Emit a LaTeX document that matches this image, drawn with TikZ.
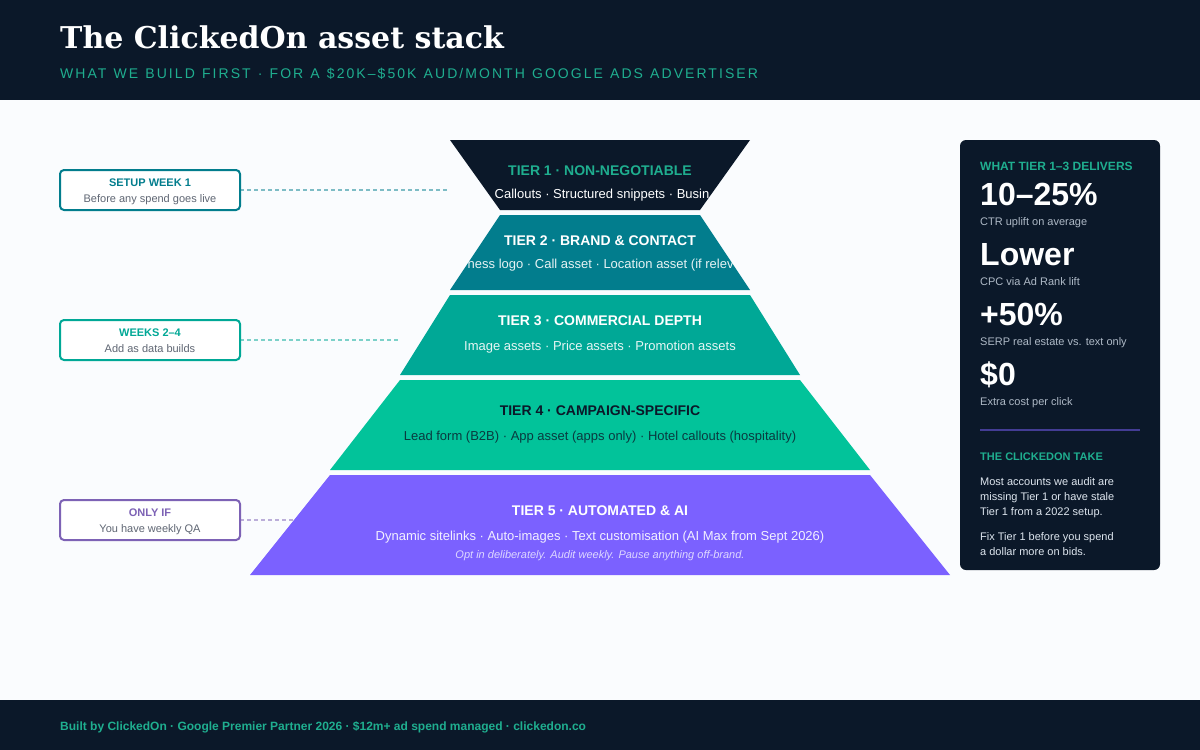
\documentclass[tikz,border=0pt]{standalone}
\usepackage{fontspec}
\setmainfont{Liberation Sans}
\newfontfamily\titlefont{DejaVu Serif}
\newfontfamily\spacedfont[LetterSpace=14.7,WordSpace=1.2]{Liberation Sans}
\definecolor{navy}{HTML}{0B1829}
\definecolor{paper}{HTML}{FAFCFE}
\definecolor{mint}{HTML}{1FAE8F}
\definecolor{tiertwo}{HTML}{027D8D}
\definecolor{tierthree}{HTML}{00A896}
\definecolor{tierfour}{HTML}{02C39A}
\definecolor{tierfive}{HTML}{7B61FF}
\definecolor{weekpurple}{HTML}{7D62B5}
\definecolor{greytext}{HTML}{5F6673}
\definecolor{panelgrey}{HTML}{AEB9C6}
\definecolor{paneltext}{HTML}{DDE5EE}
\newcommand{\fs}[1]{\fontsize{#1}{#1}\selectfont}
\newcommand{\weeklines}[3]{\rule{0pt}{12.4pt}{\color{#1}\bfseries #2}\\#3\rule[-3pt]{0pt}{3pt}}
\tikzset{
  heading/.style={anchor=base, inner sep=0pt, font=\fs{14}\bfseries},
  assets/.style={anchor=base, inner sep=0pt, font=\fs{13}},
  weekbox/.style={draw, line width=2pt, rounded corners=4pt, fill=white, minimum width=180pt, minimum height=40pt,
    inner sep=0pt, outer sep=0pt, align=center, text=greytext, font=\fontsize{11}{16}\selectfont},
  link/.style={line width=1.5pt, dash pattern=on 4pt off 3pt, opacity=0.5},
  paneltitle/.style={anchor=base west, inner sep=0pt, text=mint, font=\fs{12}\bfseries},
  bignum/.style={anchor=base west, inner sep=0pt, text=white, font=\fs{32}\bfseries},
  smallnote/.style={anchor=base west, inner sep=0pt, text=panelgrey, font=\fs{11}},
  paneltake/.style={anchor=north west, inner sep=0pt, align=left, text=paneltext, font=\fontsize{11}{15}\selectfont}
}

\begin{document}
\begin{tikzpicture}[x=1pt, y=-1pt]
  \useasboundingbox (0,0) rectangle (1200,750);
  \fill [paper] (0,0) rectangle (1200,750);
  \fill [navy] (0,0) rectangle (1200,100);
  \fill [navy] (0,700) rectangle (1200,750);

  \node [anchor=base west, inner sep=0pt, text=white, font=\titlefont\fs{30}\bfseries] (title) at (60,48) {The ClickedOn asset stack};
  \node [anchor=base west, inner sep=0pt, text=mint, font=\spacedfont\fs{14}] (subtitle) at (60,78) {WHAT WE BUILD FIRST · FOR A \$20K–\$50K AUD/MONTH GOOGLE ADS ADVERTISER};
  \node [anchor=base west, inner sep=0pt, text=mint, font=\fs{12}\bfseries] (footer) at (60,730) {Built by ClickedOn · Google Premier Partner 2026 · \$12m+ ad spend managed · clickedon.co};

  \fill [navy] (450,140) -- (750,140) -- (700,210) -- (500,210) -- cycle;
  \fill [tiertwo] (500,215) -- (700,215) -- (750,290) -- (450,290) -- cycle;
  \fill [tierthree] (450,295) -- (750,295) -- (800,375) -- (400,375) -- cycle;
  \fill [tierfour] (400,380) -- (800,380) -- (870,470) -- (330,470) -- cycle;
  \fill [tierfive] (330,475) -- (870,475) -- (950,575) -- (250,575) -- cycle;

  \node [heading, text=mint] (t1) at (600,175) {TIER 1 · NON-NEGOTIABLE};
  \node [assets, text=white, anchor=base west] (a1) at (494.5,198) {Callouts · Structured snippets · Busin};
  \node [heading, text=white] (t2) at (600,245) {TIER 2 · BRAND \& CONTACT};
  \node [assets, text=white, text opacity=0.9, anchor=base west] (a2) at (467.5,268) {ness logo · Call asset · Location asset (if relev};
  \node [heading, text=white] (t3) at (600,325) {TIER 3 · COMMERCIAL DEPTH};
  \node [assets, text=white, text opacity=0.9] (a3) at (600,350) {Image assets · Price assets · Promotion assets};
  \node [heading, text=navy] (t4) at (600,415) {TIER 4 · CAMPAIGN-SPECIFIC};
  \node [assets, text=navy, text opacity=0.8] (a4) at (600,440) {Lead form (B2B) · App asset (apps only) · Hotel callouts (hospitality)};
  \node [heading, text=white] (t5) at (600,515) {TIER 5 · AUTOMATED \& AI};
  \node [assets, text=white, text opacity=0.9] (a5) at (600,540) {Dynamic sitelinks · Auto-images · Text customisation (AI Max from Sept 2026)};
  \node [anchor=base, inner sep=0pt, text=white, text opacity=0.75, font=\fs{11}\itshape] (n5) at (600,558) {Opt in deliberately. Audit weekly. Pause anything off-brand.};

  \node [weekbox, draw=tiertwo] (setup) at (150,190) {\weeklines{tiertwo}{SETUP WEEK 1}{Before any spend goes live}};
  \node [weekbox, draw=tierthree] (weeks) at (150,340) {\weeklines{tierthree}{WEEKS 2–4}{Add as data builds}};
  \node [weekbox, draw=weekpurple] (onlyif) at (150,520) {\weeklines{weekpurple}{ONLY IF}{You have weekly QA}};

  \coordinate (e1) at (448,190);
  \coordinate (e3) at (398,340);
  \coordinate (e5) at (294,520);
  \draw [link, tiertwo] (setup) -- (e1);
  \draw [link, tierthree] (weeks) -- (e3);
  \draw [link, weekpurple] (onlyif) -- (e5);

  \fill [navy, rounded corners=6pt] (960,140) rectangle (1160,570);
  \node [paneltitle] (p0) at (980,170) {WHAT TIER 1–3 DELIVERS};
  \node [bignum] (p1) at (980,205) {10–25\%};
  \node [smallnote] (q1) at (980,225) {CTR uplift on average};
  \node [bignum] (p2) at (980,265) {Lower};
  \node [smallnote] (q2) at (980,285) {CPC via Ad Rank lift};
  \node [bignum] (p3) at (980,325) {+50\%};
  \node [smallnote] (q3) at (980,345) {SERP real estate vs. text only};
  \node [bignum] (p4) at (980,385) {\$0};
  \node [smallnote] (q4) at (980,405) {Extra cost per click};
  \coordinate (r0) at (980,430);
  \coordinate (r1) at (1140,430);
  \draw [tierfive, line width=1.5pt, opacity=0.5] (r0) -- (r1);
  \node [paneltitle, font=\fs{11}\bfseries] (p5) at (980,460) {THE CLICKEDON TAKE};
  \node [paneltake] (take1) at (980,477) {Most accounts we audit are\\missing Tier 1 or have stale\\Tier 1 from a 2022 setup.};
  \node [paneltake] (take2) at (980,532) {Fix Tier 1 before you spend\\a dollar more on bids.};
\end{tikzpicture}
\end{document}
